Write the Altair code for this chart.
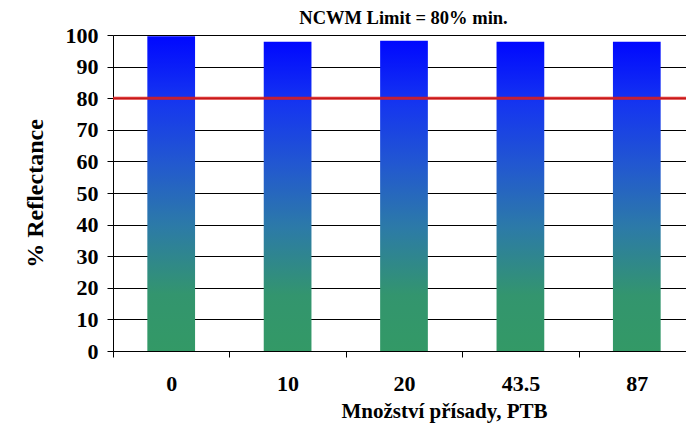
import altair as alt
import pandas as pd

categories = ["0", "10", "20", "43.5", "87"]
reflectance = [99.6, 97.9, 98.2, 97.9, 97.9]
limit_value = [80]

df = pd.DataFrame({"cat": categories, "val": reflectance})
lim = pd.DataFrame({"val": limit_value})

FONT = "Liberation Serif"

grad = alt.Gradient(
    gradient="linear",
    stops=[
        alt.GradientStop(color="#0008ff", offset=0.0),
        alt.GradientStop(color="#1535f0", offset=0.2),
        alt.GradientStop(color="#2258d0", offset=0.4),
        alt.GradientStop(color="#2c7aa8", offset=0.6),
        alt.GradientStop(color="#33956e", offset=0.82),
        alt.GradientStop(color="#339966", offset=1.0),
    ],
    x1=0, x2=0, y1=0, y2=1,
)

x_enc = alt.X(
    "cat:N",
    sort=categories,
    scale=alt.Scale(range=[0, 582], paddingInner=0, paddingOuter=0),
    axis=alt.Axis(
        title="Množství přísady, PTB",
        labelAngle=0,
        tickBand="extent",
        tickSize=6,
        tickColor="#000000",
        domainColor="#000000",
        labelFont=FONT,
        labelFontWeight="bold",
        labelFontSize=22,
        labelColor="#000000",
        labelPadding=16,
        titleFont=FONT,
        titleFontWeight="bold",
        titleFontSize=21,
        titleColor="#000000",
        titleX=331,
        titleY=66,
        titleBaseline="alphabetic",
        grid=False,
    ),
)

y_axis = alt.Axis(
    title="% Reflectance",
    values=list(range(0, 101, 10)),
    labelOverlap=False,
    grid=True,
    gridColor="#000000",
    gridWidth=1,
    tickSize=6,
    tickColor="#000000",
    domainColor="#000000",
    labelFont=FONT,
    labelFontWeight="bold",
    labelFontSize=22,
    labelColor="#000000",
    labelPadding=9,
    titleFont=FONT,
    titleFontWeight="bold",
    titleFontSize=24,
    titleColor="#000000",
    titleX=-71,
    titleY=158,
    titleBaseline="alphabetic",
    titleAlign="center",
)

y_scale = alt.Scale(domain=[0, 100], nice=False)

bars = alt.Chart(df).mark_bar(
    width=alt.RelativeBandSize(0.41), color=grad
).encode(x=x_enc, y=alt.Y("val:Q", scale=y_scale, axis=y_axis))

rule = alt.Chart(lim).mark_rule(color="#d81e1e", strokeWidth=3, opacity=0.9).encode(
    y=alt.Y("val:Q", scale=y_scale, axis=y_axis)
)

chart = (
    alt.layer(bars, rule)
    .properties(
        width=573,
        height=316,
        autosize=alt.AutoSizeParams(type="none"),
        padding={"left": 113, "top": 35, "right": 0, "bottom": 76},
        background="white",
        title=alt.TitleParams(
            "NCWM Limit = 80% min.",
            font=FONT,
            fontSize=18.5,
            fontWeight="bold",
            color="#000000",
            anchor="middle",
            offset=13,
            dx=4,
            dy=16,
        ),
    )
    .configure_view(stroke=None)
)

chart.save("out.html", embed_options={"renderer": "svg", "actions": False})
